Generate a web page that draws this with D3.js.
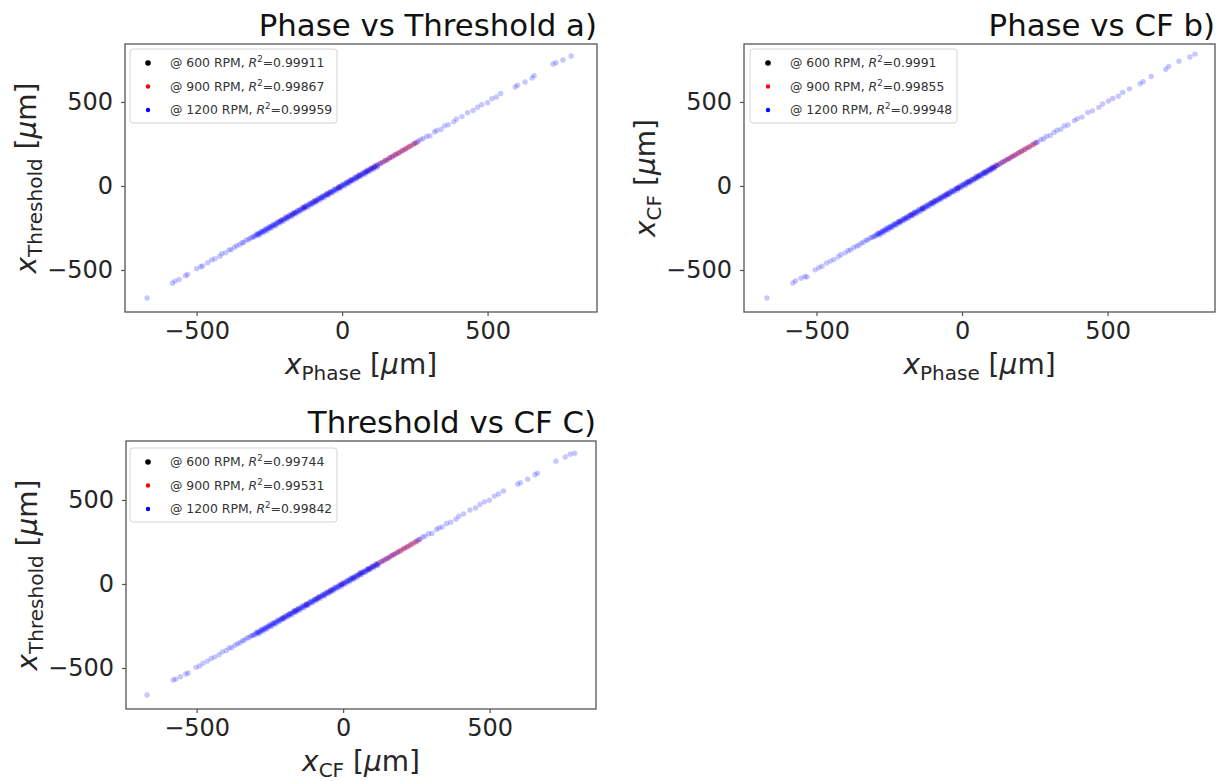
<!DOCTYPE html>
<html><head><meta charset="utf-8">
<script src="https://cdn.jsdelivr.net/npm/d3@7"></script>
<style>body{margin:0;background:#fff}svg{display:block}text{font-family:"DejaVu Sans",sans-serif}</style>
</head><body><svg id="chart" width="1225" height="781"></svg>
<script>
// ---------- data ----------
const titles = ["Phase vs Threshold a)", "Phase vs CF b)", "Threshold vs CF C)"];
const xLabelSubs = ["Phase", "Phase", "CF"];
const yLabelSubs = ["Threshold", "CF", "Threshold"];
const rpmLabels = ["@ 600 RPM, ", "@ 900 RPM, ", "@ 1200 RPM, "];
const r2_a = ["0.99911", "0.99867", "0.99959"];
const r2_b = ["0.9991", "0.99855", "0.99948"];
const r2_c = ["0.99744", "0.99531", "0.99842"];
const xTicks = [-500, 0, 500];
const yTicks = [-500, 0, 500];

// panel a: x = Phase, y = Threshold
const black_a = [[-190,-186],[-160,-158],[-130,-127],[-100,-98],[-70,-66],[-40,-38],[-10,-7],[20,23],[50,52],[80,83],[110,112]];
const red_a = [[-210,-206],[-170,-168],[-130,-127],[-90,-88],[-50,-47],[-10,-8],[30,33],[60,62],[85,88],[100,103],[112,115],[122,124],[131,135],[140,142],[148,152],[156,158],[163,167],[170,172],[177,181],[184,186],[191,195],[198,200],[205,209],[212,214],[219,223],[226,228],[233,237],[240,242],[248,252],[257,259]];
const blue_a = [[-670,-667],[-583,-579],[-574,-566],[-560,-556],[-538,-534],[-531,-527],[-500,-492],[-486,-481],[-479,-476],[-462,-457],[-448,-440],[-437,-433],[-420,-418],[-413,-403],[-400,-397],[-388,-380],[-381,-379],[-370,-365],[-362,-356],[-352,-349],[-344,-338],[-338,-336],[-330,-321],[-322,-320],[-316,-311],[-309,-306],
[-305,-301],[-300,-302],[-296,-292],[-291,-290],[-287,-284],[-282,-283],[-278,-273],[-273,-272],[-269,-266],[-264,-265],[-260,-256],[-255,-254],[-251,-248],[-246,-247],[-242,-238],[-237,-236],[-233,-230],[-228,-229],[-224,-220],[-219,-218],[-215,-212],[-210,-211],[-206,-202],[-201,-200],[-197,-194],[-192,-193],[-188,-184],[-183,-182],[-179,-176],[-174,-175],[-170,-166],[-165,-164],[-161,-158],[-156,-157],[-152,-148],[-147,-146],[-143,-140],[-138,-139],[-134,-130],[-129,-128],[-125,-122],[-120,-121],[-116,-112],[-111,-110],[-107,-104],[-102,-103],[-98,-94],[-93,-92],[-89,-86],[-84,-85],[-80,-76],[-75,-74],[-71,-68],[-66,-67],[-62,-58],[-57,-56],[-53,-50],[-48,-49],[-44,-40],[-39,-38],[-35,-32],[-30,-31],[-26,-22],[-21,-20],[-17,-14],[-12,-13],[-8,-4],[-3,-2],[1,4],[6,5],[10,13],[15,16],[19,22],[24,23],[28,31],[33,34],[37,40],[42,41],[46,49],[51,52],[55,58],[60,59],[64,67],[69,70],[73,76],[78,77],[82,85],[87,88],[91,94],[96,95],[100,103],[105,106],[110,112],[116,115],[122,125],
[-292,-283],[-285,-293],[-278,-270],[-271,-279],[-264,-256],[-257,-266],[-250,-241],[-243,-251],[-236,-228],[-229,-238],[-222,-213],[-215,-223],[-208,-200],[-201,-210],[-194,-185],[-187,-195],[-180,-172],[-173,-182],[-166,-157],[-159,-167],[-152,-144],[-145,-154],[-138,-129],[-131,-139],[-124,-116],[-117,-126],[-110,-101],[-103,-111],[-96,-88],[-89,-98],[-82,-73],[-75,-83],[-68,-60],[-61,-70],[-54,-45],[-47,-55],[-40,-32],[-33,-42],[-26,-17],[-19,-27],[-12,-4],[-5,-14],[2,11],[9,1],[16,24],[23,14],[30,39],[37,29],[44,52],[51,42],[58,67],[65,57],[72,80],[79,70],[86,95],[93,85],[100,108],[107,98],[114,123],[121,112],
[130,133],[138,139],[147,150],[155,154],[164,168],[173,174],[183,186],[194,195],[206,210],[218,219],[231,235],
[246,250],[253,258],[262,266],[270,277],[279,282],[291,296],[302,298],[318,322],[325,331],[340,336],[352,358],[365,364],[384,382],[393,399],[412,413],[431,436],[450,449],[466,469],[480,484],[500,495],[515,520],[530,530],[545,550],[595,589],[603,600],[629,619],[653,643],[660,657],[725,726],[735,733],[759,750],[787,774]];

// panel b: x = Phase, y = CF
const black_b = [[-195,-192],[-165,-162],[-135,-133],[-105,-101],[-75,-73],[-45,-42],[-15,-13],[15,18],[45,46],[75,78],[105,107]];
const red_b = [[-215,-212],[-175,-172],[-135,-133],[-95,-91],[-55,-53],[-15,-12],[25,27],[55,58],[82,84],[98,101],[110,112],[120,123],[129,131],[138,141],[146,148],[154,157],[161,163],[168,171],[175,177],[182,185],[189,191],[196,199],[203,205],[210,213],[217,219],[224,227],[231,233],[238,241],[246,248],[255,258]];
const blue_b = [[-670,-667],[-581,-577],[-572,-565],[-553,-549],[-540,-538],[-533,-542],[-505,-499],[-492,-487],[-481,-478],[-465,-458],[-452,-447],[-440,-438],[-425,-421],[-416,-408],[-401,-398],[-391,-384],[-383,-380],[-372,-366],[-362,-358],[-354,-352],[-346,-340],[-338,-335],[-330,-322],[-324,-322],[-316,-310],[-310,-307],
[-304,-302],[-300,-298],[-295,-296],[-291,-287],[-286,-285],[-282,-280],[-277,-278],[-273,-269],[-268,-267],[-264,-262],[-259,-260],[-255,-251],[-250,-249],[-246,-244],[-241,-242],[-237,-233],[-232,-231],[-228,-226],[-223,-224],[-219,-215],[-214,-213],[-210,-208],[-205,-206],[-201,-197],[-196,-195],[-192,-190],[-187,-188],[-183,-179],[-178,-177],[-174,-172],[-169,-170],[-165,-161],[-160,-159],[-156,-154],[-151,-152],[-147,-143],[-142,-141],[-138,-136],[-133,-134],[-129,-125],[-124,-123],[-120,-118],[-115,-116],[-111,-107],[-106,-105],[-102,-100],[-97,-98],[-93,-89],[-88,-87],[-84,-82],[-79,-80],[-75,-71],[-70,-69],[-66,-64],[-61,-62],[-57,-53],[-52,-51],[-48,-46],[-43,-44],[-39,-35],[-34,-33],[-30,-28],[-25,-26],[-21,-17],[-16,-15],[-12,-10],[-7,-8],[-3,1],[2,3],[6,8],[11,10],[15,19],[20,21],[24,26],[29,28],[33,37],[38,39],[42,44],[47,46],[51,55],[56,57],[60,62],[65,64],[69,73],[74,75],[78,80],[83,82],[87,91],[92,93],[96,98],[101,100],[105,109],[110,111],[115,117],[121,120],
[-289,-281],[-282,-291],[-275,-267],[-268,-277],[-261,-252],[-254,-262],[-247,-239],[-240,-249],[-233,-224],[-226,-234],[-219,-211],[-212,-221],[-205,-196],[-198,-206],[-191,-183],[-184,-193],[-177,-168],[-170,-178],[-163,-155],[-156,-165],[-149,-140],[-142,-150],[-135,-127],[-128,-137],[-121,-112],[-114,-122],[-107,-99],[-100,-109],[-93,-84],[-86,-94],[-79,-71],[-72,-81],[-65,-56],[-58,-66],[-51,-43],[-44,-53],[-37,-28],[-30,-38],[-23,-15],[-16,-25],[-9,0],[-2,-10],[5,13],[12,3],[19,28],[26,18],[33,41],[40,31],[47,56],[54,46],[61,69],[68,59],[75,84],[82,74],[89,97],[96,87],[103,112],[110,102],[117,125],
[129,131],[137,140],[146,147],[154,157],[163,164],[172,175],[182,183],[193,196],[205,206],[217,220],[230,231],
[244,247],[252,257],[260,262],[271,277],[280,280],[290,296],[303,300],[316,319],[326,332],[339,337],[351,357],[364,363],[386,389],[396,401],[412,410],[432,438],[448,447],[470,468],[483,488],[503,506],[518,521],[537,534],[552,557],[575,578],[612,608],[622,620],[650,652],[700,695],[710,712],[745,742],[783,768],[800,785]];

// panel c: x = CF, y = Threshold
const black_c = [[-185,-183],[-155,-152],[-125,-124],[-95,-92],[-65,-63],[-35,-32],[-5,-3],[25,27],[55,58],[85,86],[115,118]];
const red_c = [[-205,-203],[-165,-161],[-125,-123],[-85,-82],[-45,-43],[-5,-2],[35,36],[62,65],[88,90],[103,106],[115,117],[125,128],[134,136],[142,145],[150,152],[158,161],[165,167],[172,175],[179,181],[186,189],[193,195],[200,203],[207,209],[214,217],[221,223],[228,231],[235,237],[242,245],[250,252],[259,262]];
const blue_c = [[-669,-661],[-580,-571],[-571,-566],[-555,-552],[-537,-536],[-529,-530],[-502,-496],[-490,-488],[-478,-472],[-463,-459],[-450,-443],[-438,-434],[-423,-421],[-412,-404],[-399,-396],[-389,-381],[-380,-378],[-369,-364],[-360,-355],[-352,-350],[-344,-338],[-337,-335],[-329,-321],[-322,-320],[-315,-310],[-310,-306],
[-306,-303],[-301,-303],[-297,-292],[-292,-291],[-288,-285],[-283,-284],[-279,-275],[-274,-272],[-270,-267],[-265,-266],[-261,-257],[-256,-255],[-252,-249],[-247,-248],[-243,-238],[-238,-237],[-234,-231],[-229,-230],[-225,-221],[-220,-219],[-216,-213],[-211,-212],[-207,-203],[-202,-201],[-198,-195],[-193,-194],[-189,-184],[-184,-183],[-180,-177],[-175,-176],[-171,-167],[-166,-165],[-162,-159],[-157,-158],[-153,-149],[-148,-147],[-144,-141],[-139,-140],[-135,-130],[-130,-129],[-126,-123],[-121,-122],[-117,-113],[-112,-111],[-108,-105],[-103,-104],[-99,-95],[-94,-93],[-90,-87],[-85,-86],[-81,-76],[-76,-75],[-72,-69],[-67,-68],[-63,-59],[-58,-57],[-54,-51],[-49,-50],[-45,-41],[-40,-39],[-36,-33],[-31,-32],[-27,-22],[-22,-21],[-18,-15],[-13,-14],[-9,-5],[-4,-3],[0,3],[5,4],[9,12],[14,15],[18,21],[23,22],[27,31],[32,33],[36,39],[41,40],[45,48],[50,51],[54,57],[59,58],[63,67],[68,69],[72,75],[77,76],[81,84],[86,87],[90,93],[95,94],[99,103],[104,105],[109,111],[115,114],[121,124],
[-294,-286],[-287,-296],[-280,-271],[-273,-281],[-266,-258],[-259,-268],[-252,-243],[-245,-253],[-238,-230],[-231,-240],[-224,-215],[-217,-225],[-210,-202],[-203,-212],[-196,-187],[-189,-197],[-182,-174],[-175,-184],[-168,-159],[-161,-169],[-154,-146],[-147,-156],[-140,-131],[-133,-141],[-126,-118],[-119,-128],[-112,-103],[-105,-113],[-98,-90],[-91,-100],[-84,-75],[-77,-85],[-70,-62],[-63,-72],[-56,-47],[-49,-57],[-42,-34],[-35,-44],[-28,-19],[-21,-29],[-14,-6],[-7,-16],[0,9],[7,-1],[14,22],[21,12],[28,37],[35,27],[42,50],[49,40],[56,65],[63,55],[70,78],[77,68],[84,93],[91,83],[98,106],[105,96],[112,121],[119,110],
[131,134],[139,140],[148,152],[156,155],[165,170],[174,176],[184,188],[195,197],[207,212],[219,221],[232,237],
[247,251],[255,262],[263,268],[272,280],[280,285],[292,299],[303,301],[319,325],[327,334],[338,339],[353,360],[367,367],[385,386],[395,403],[411,417],[433,440],[452,452],[467,473],[482,489],[499,499],[516,523],[530,536],[547,553],[596,594],[605,603],[630,624],[655,650],[663,660],[726,731],[758,756],[775,772],[790,778]];

// ---------- layout ----------
const panels = [
  {title: titles[0], xs: xLabelSubs[0], ys: yLabelSubs[0], r2: r2_a, series: [black_a, red_a, blue_a],
   l: 125, r: 597, t: 44, b: 312, xDom: [-746, 876], yDom: [-750, 845], leg: {x: 130, y: 49}},
  {title: titles[1], xs: xLabelSubs[1], ys: yLabelSubs[1], r2: r2_b, series: [black_b, red_b, blue_b],
   l: 744, r: 1215, t: 44, b: 312, xDom: [-749, 869], yDom: [-750, 845], leg: {x: 750, y: 49}},
  {title: titles[2], xs: xLabelSubs[2], ys: yLabelSubs[2], r2: r2_c, series: [black_c, red_c, blue_c],
   l: 126, r: 596, t: 441, b: 709, xDom: [-741, 863], yDom: [-744, 851], leg: {x: 130, y: 448}}
];
const colors = ["#000000", "#ff0000", "#0000ff"];
const opac = [0.12, 0.28, 0.22];
const axisColor = "#555";
const textColor = "#262626";
const fmt = d => d < 0 ? "\u2212" + (-d) : String(d);

const svg = d3.select("#chart");

panels.forEach(p => {
  const x = d3.scaleLinear().domain(p.xDom).range([p.l, p.r]);
  const y = d3.scaleLinear().domain(p.yDom).range([p.b, p.t]);
  const g = svg.append("g");

  p.series.forEach((s, i) => {
    g.append("g").selectAll("circle").data(s).join("circle")
      .attr("cx", d => x(d[0])).attr("cy", d => y(d[1]))
      .attr("r", 2.7).attr("fill", colors[i]).attr("fill-opacity", opac[i]);
  });

  // axes
  const xa = g.append("g").attr("transform", `translate(0,${p.b})`)
    .call(d3.axisBottom(x).tickValues(xTicks).tickSize(4).tickPadding(6).tickFormat(fmt));
  const ya = g.append("g").attr("transform", `translate(${p.l},0)`)
    .call(d3.axisLeft(y).tickValues(yTicks).tickSize(4).tickPadding(8).tickFormat(fmt));
  [xa, ya].forEach(a => {
    a.select(".domain").remove();
    a.attr("font-size", 24).attr("font-family", "DejaVu Sans");
    a.selectAll(".tick line").attr("stroke", axisColor).attr("stroke-width", 1.2);
    a.selectAll(".tick text").attr("fill", textColor);
  });

  g.append("rect").attr("x", p.l).attr("y", p.t).attr("width", p.r - p.l).attr("height", p.b - p.t)
    .attr("fill", "none").attr("stroke", axisColor).attr("stroke-width", 1.3);

  // title
  g.append("text").attr("x", p.r).attr("y", p.t - 8).attr("text-anchor", "end")
    .attr("font-size", 30.8).attr("fill", "#111").text(p.title);

  // axis labels
  function label(sel, sub) {
    sel.attr("font-size", 28).attr("fill", textColor).attr("text-anchor", "middle");
    sel.append("tspan").attr("font-style", "italic").text("x");
    sel.append("tspan").attr("font-size", 20).attr("dy", 6).text(sub);
    sel.append("tspan").attr("dy", -6).text(" [");
    sel.append("tspan").attr("font-style", "italic").text("\u03bc");
    sel.append("tspan").text("m]");
  }
  label(g.append("text").attr("x", (p.l + p.r) / 2).attr("y", p.b + 62), p.xs);
  label(g.append("text").attr("transform", `translate(${p.l - 89},${(p.t + p.b) / 2}) rotate(-90)`), p.ys);

  // legend
  const lg = g.append("g").attr("transform", `translate(${p.leg.x},${p.leg.y})`);
  lg.append("rect").attr("width", 207).attr("height", 74).attr("rx", 3)
    .attr("fill", "#fff").attr("fill-opacity", 0.85).attr("stroke", "#d4d4d4");
  rpmLabels.forEach((lab, i) => {
    const yy = 14 + i * 23.5;
    lg.append("circle").attr("cx", 18).attr("cy", yy).attr("r", i === 0 ? 2.8 : 2.2).attr("fill", colors[i]);
    const t = lg.append("text").attr("x", 40).attr("y", yy + 4.3).attr("font-size", 12.4).attr("fill", "#333");
    t.append("tspan").text(lab);
    t.append("tspan").attr("font-style", "italic").text("R");
    t.append("tspan").attr("font-size", 8.7).attr("dy", -5).text("2");
    t.append("tspan").attr("dy", 5).text("=" + p.r2[i]);
  });
});
</script></body></html>
